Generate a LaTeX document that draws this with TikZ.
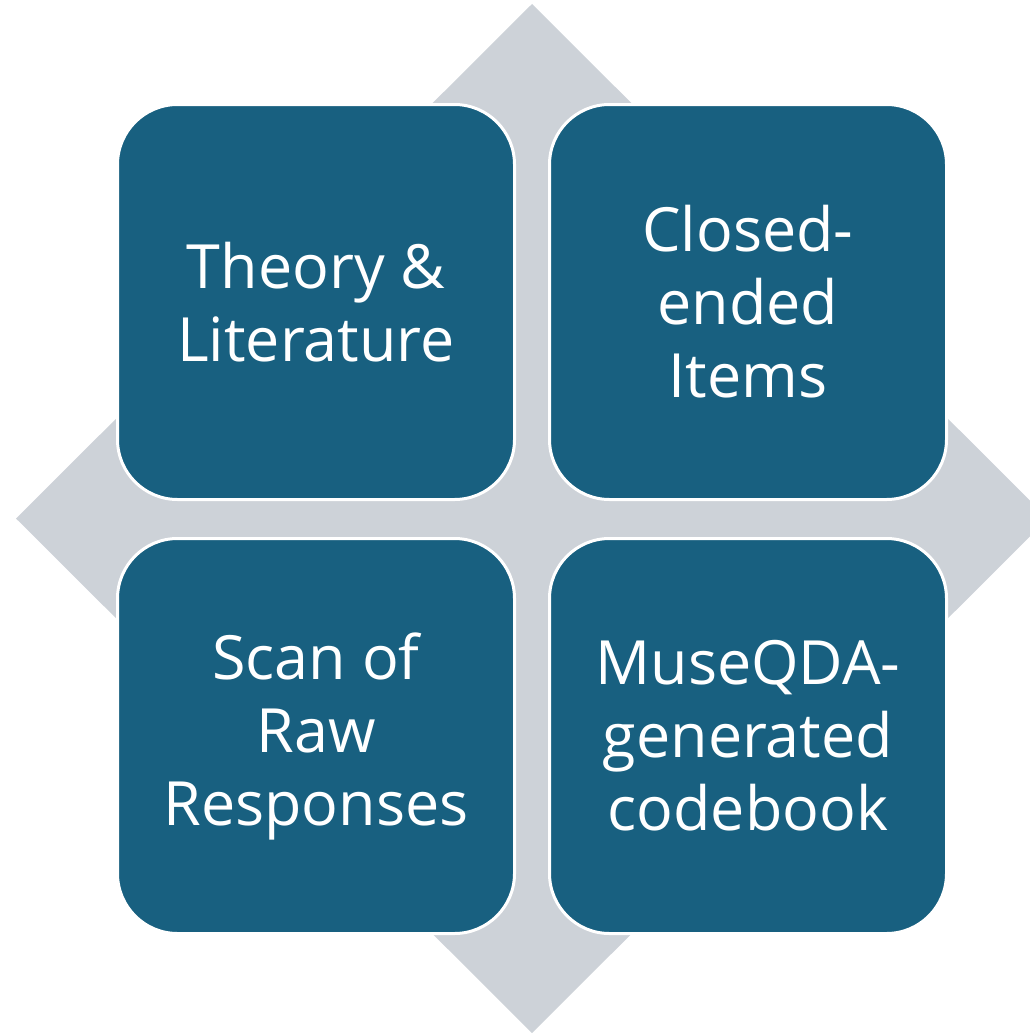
\documentclass[tikz,border=0pt]{standalone}
\usepackage{fontspec}
\setmainfont{Open Sans}
\definecolor{tilefill}{RGB}{24,96,128}
\definecolor{diamondgray}{RGB}{205,210,216}
\tikzset{
  tile/.style={draw=white, line width=3pt, fill=tilefill, rounded corners=60pt,
    minimum width=397pt, minimum height=395pt, inner sep=0pt,
    text=white, align=center, font=\fontsize{61}{73}\selectfont},
}
\begin{document}
\begin{tikzpicture}[x=1pt,y=-1pt]
  \useasboundingbox (0,0) rectangle (1030,1033);
  \clip (0,0) rectangle (1030,1033);
  % background diamond
  \fill[diamondgray] (532,4) -- (1048,518.5) -- (532,1033) -- (16,518.5) -- cycle;
  % four tiles
  \node[tile] (tl) at (316,302) {Theory \&\\Literature};
  \node[tile] (tr) at (748,302) {Closed-\\ended\\Items};
  \node[tile] (bl) at (316,736) {Scan of\\Raw\\Responses};
  \node[tile] (br) at (748,736) {MuseQDA-\\generated\\codebook};
\end{tikzpicture}
\end{document}
